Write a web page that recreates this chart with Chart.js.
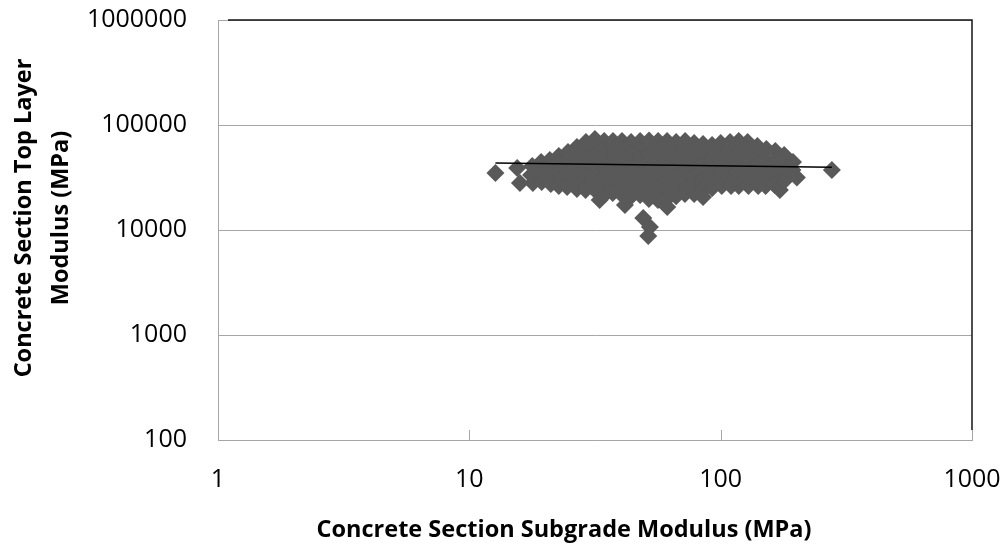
<!DOCTYPE html>
<html>
<head>
<meta charset="utf-8">
<title>Concrete Section Modulus</title>
<script src="https://cdn.jsdelivr.net/npm/chart.js@4.4.1/dist/chart.umd.min.js"></script>
<style>
  html, body { margin: 0; padding: 0; background: #ffffff; }
  #wrap { width: 1007px; height: 550px; position: relative; }
</style>
</head>
<body>
<div id="wrap"><canvas id="chart" width="1007" height="550"></canvas></div>
<script>
// Backcalculated moduli per test point: [subgrade modulus (MPa), top layer modulus (MPa)]
const measurements = [
  [12.7, 34900], [15.5, 38900], [15.9, 28000],
  [17.8, 40700], [17.6, 33400], [17.9, 28000],
  [19.3, 44400], [19.1, 35700], [19.4, 28700],
  [20.9, 46400], [21.0, 39000], [20.8, 32000], [21.1, 27400],
  [22.7, 50700], [22.8, 43500], [22.6, 35700], [22.9, 29300], [22.7, 26200],
  [24.7, 55300], [24.6, 47500], [24.8, 39000], [24.7, 32000], [24.5, 25700],
  [26.8, 61700], [26.9, 53000], [26.7, 43500], [26.8, 35700], [27.0, 29300], [26.8, 24600],
  [29.1, 68900], [29.0, 57800], [29.2, 47500], [29.1, 39000], [28.9, 32000], [29.2, 26200], [29.0, 24000],
  [31.6, 73600], [31.5, 64500], [31.7, 53000], [31.6, 43500], [31.4, 35700], [31.8, 29300], [31.6, 24000], [33.0, 19300],
  [34.4, 70400], [34.3, 57800], [34.5, 47500], [34.4, 39000], [34.2, 32000], [34.5, 26200], [34.4, 21500],
  [37.3, 70400], [37.2, 64500], [37.4, 53000], [37.3, 43500], [37.1, 35700], [37.5, 29300], [37.3, 24000], [37.2, 22500],
  [40.5, 70400], [40.4, 57800], [40.6, 47500], [40.5, 39000], [40.3, 32000], [40.7, 26200], [40.5, 21500], [41.6, 17300],
  [44.0, 69000], [43.9, 64500], [44.1, 53000], [44.0, 43500], [43.8, 35700], [44.2, 29300], [44.0, 24000], [44.1, 21000],
  [47.8, 70400], [47.7, 57800], [47.9, 47500], [47.8, 39000], [47.6, 32000], [48.0, 26200], [47.8, 21500], [49.2, 13000],
  [51.9, 71000], [51.8, 64500], [52.0, 53000], [51.9, 43500], [51.7, 35700], [52.1, 29300], [51.9, 24000], [51.8, 19700],
  [52.3, 10700], [51.5, 8770],
  [56.4, 70400], [56.3, 57800], [56.5, 47500], [56.4, 39000], [56.2, 32000], [56.6, 26200], [56.4, 21500], [56.3, 19300],
  [61.2, 70400], [61.1, 64500], [61.3, 53000], [61.2, 43500], [61.0, 35700], [61.4, 29300], [61.2, 24000], [61.1, 19700],
  [61.3, 16600],
  [66.5, 68900], [66.4, 57800], [66.6, 47500], [66.5, 39000], [66.3, 32000], [66.7, 26200], [66.5, 21000],
  [72.2, 70400], [72.1, 64500], [72.3, 53000], [72.2, 43500], [72.0, 35700], [72.4, 29300], [72.2, 24000], [72.1, 22000],
  [78.4, 67400], [78.3, 57800], [78.5, 47500], [78.4, 39000], [78.2, 32000], [78.6, 26200], [78.4, 22000],
  [85.1, 65900], [85.0, 53000], [85.2, 43500], [85.1, 35700], [84.9, 29300], [85.3, 24000], [85.1, 20600],
  [92.4, 64500], [92.3, 57800], [92.5, 47500], [92.4, 39000], [92.2, 32000], [92.6, 25100],
  [100, 67400], [99.5, 53000], [101, 43500], [100, 35700], [99.6, 29300], [101, 26200],
  [109, 68900], [108, 57800], [110, 47500], [109, 39000], [108, 32000], [110, 26200],
  [118, 70400], [117, 64500], [119, 53000], [118, 43500], [117, 35700], [119, 29300], [118, 26200],
  [128, 68900], [127, 57800], [129, 47500], [128, 39000], [127, 32000], [129, 26200],
  [140, 63100], [139, 53000], [141, 43500], [140, 35700], [139, 29300], [141, 26200],
  [152, 59100], [151, 47500], [153, 39000], [152, 32000], [151, 26200],
  [165, 56500], [164, 43500], [166, 35700], [165, 29300], [164, 26800],
  [172, 24000],
  [179, 51800], [178, 42500], [180, 35000], [179, 29300],
  [194, 44400], [193, 37300],
  [201, 31600],
  [277, 37300]
];

// Power trend line end points
const trendX = [12.7, 277];
const trendY = [43400, 39700];

// Decade ticks on both axes
const xTicks = [1, 10, 100, 1000];
const yTicks = [100, 1000, 10000, 100000, 1000000];

const xTitle = 'Concrete Section Subgrade Modulus (MPa)';
const yTitleLines = ['Concrete Section Top Layer', 'Modulus (MPa)'];

const AXIS_GRAY = '#a6a6a6';
const FRAME_BLACK = '#141414';
const MARKER_GRAY = '#595959';
const TICK_FONT = { family: "'Open Sans', sans-serif", size: 25 };
const TITLE_FONT = "bold 23.5px 'Open Sans', sans-serif";

// Fixed axis box sizes; edge labels may overhang the plot without shrinking it
function fixBox(size, prop) {
  return s => {
    s[prop] = size;
    s.paddingTop = 0;
    s.paddingBottom = 0;
    s.paddingLeft = 0;
    s.paddingRight = 0;
  };
}

// Plot frame (black top/right), inside tick marks and axis titles
const framePlugin = {
  id: 'frame',
  beforeDatasetsDraw(chart) {
    const { ctx, chartArea: a, scales: { x, y } } = chart;
    ctx.save();
    ctx.strokeStyle = FRAME_BLACK;
    ctx.lineWidth = 1.5;
    ctx.beginPath();
    ctx.moveTo(a.left + 10, a.top);
    ctx.lineTo(a.right, a.top);
    ctx.lineTo(a.right, a.bottom - 10);
    ctx.stroke();

    ctx.strokeStyle = AXIS_GRAY;
    ctx.lineWidth = 1;
    ctx.beginPath();
    yTicks.forEach(v => {
      const py = Math.round(y.getPixelForValue(v)) + 0.5;
      ctx.moveTo(a.left, py);
      ctx.lineTo(a.left + 10, py);
    });
    xTicks.forEach(v => {
      const px = Math.round(x.getPixelForValue(v)) + 0.5;
      ctx.moveTo(px, a.bottom);
      ctx.lineTo(px, a.bottom - 10);
    });
    ctx.stroke();
    ctx.restore();
  },
  afterDraw(chart) {
    const { ctx } = chart;
    ctx.save();
    ctx.fillStyle = '#000000';
    ctx.font = TITLE_FONT;
    ctx.textAlign = 'center';
    ctx.textBaseline = 'alphabetic';
    ctx.fillText(xTitle, 564, 537);

    const baselines = [31, 68];
    yTitleLines.forEach((line, i) => {
      ctx.save();
      ctx.translate(baselines[i], 218);
      ctx.rotate(-Math.PI / 2);
      ctx.fillText(line, 0, 0);
      ctx.restore();
    });
    ctx.restore();
  }
};

new Chart(document.getElementById('chart'), {
  type: 'scatter',
  data: {
    datasets: [
      {
        label: 'Power trend',
        data: trendX.map((x, i) => ({ x, y: trendY[i] })),
        showLine: true,
        borderColor: '#000000',
        borderWidth: 1.5,
        pointRadius: 0,
        fill: false,
        order: 0
      },
      {
        label: 'Sections',
        data: measurements.map(([x, y]) => ({ x, y })),
        pointStyle: 'rectRot',
        pointRadius: 9,
        pointHoverRadius: 9,
        backgroundColor: MARKER_GRAY,
        borderColor: MARKER_GRAY,
        borderWidth: 0,
        order: 1
      }
    ]
  },
  options: {
    responsive: false,
    animation: false,
    events: [],
    layout: { padding: { top: 20, right: 35, left: 0, bottom: 0 } },
    plugins: { legend: { display: false }, tooltip: { enabled: false } },
    scales: {
      x: {
        type: 'logarithmic',
        min: 1,
        max: 1000,
        afterBuildTicks: s => { s.ticks = xTicks.map(v => ({ value: v })); },
        afterFit: fixBox(110, 'height'),
        grid: { display: false, drawTicks: false },
        border: { display: true, color: AXIS_GRAY, width: 1 },
        ticks: {
          padding: 25,
          font: TICK_FONT,
          color: '#000000',
          maxRotation: 0,
          autoSkip: false,
          callback: v => String(v)
        }
      },
      y: {
        type: 'logarithmic',
        min: 100,
        max: 1000000,
        afterBuildTicks: s => { s.ticks = yTicks.map(v => ({ value: v })); },
        afterFit: fixBox(218, 'width'),
        grid: { color: AXIS_GRAY, lineWidth: 1, drawTicks: false },
        border: { display: true, color: AXIS_GRAY, width: 1 },
        ticks: {
          padding: 31,
          font: TICK_FONT,
          color: '#000000',
          autoSkip: false,
          callback: v => String(v)
        }
      }
    }
  },
  plugins: [framePlugin]
});
</script>
</body>
</html>
